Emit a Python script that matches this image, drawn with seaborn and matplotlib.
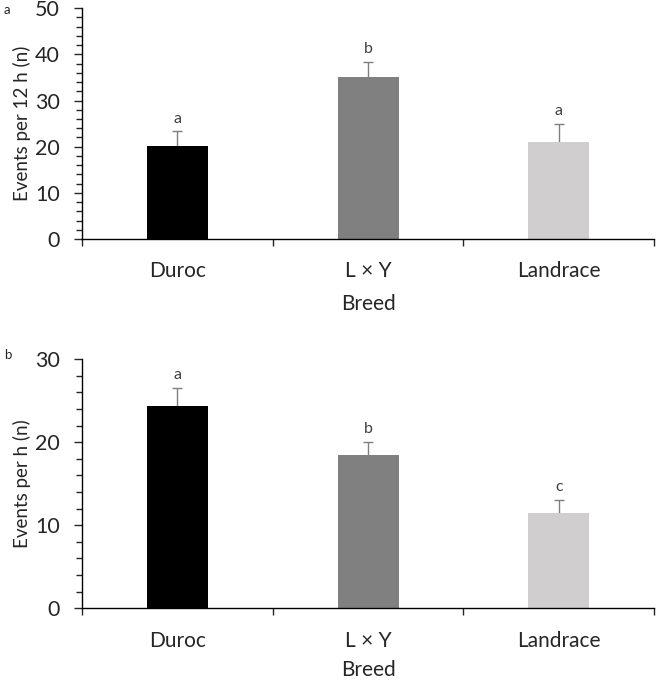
import matplotlib
matplotlib.use("Agg")
import matplotlib.pyplot as plt
import seaborn as sns
import pandas as pd
import numpy as np

breeds = ["Duroc", "L \u00d7 Y", "Landrace"]
colors = ["#000000", "#808080", "#D0CECE"]

events_12h = [20.1, 35.1, 21.0]
err_12h = [3.2, 3.3, 4.0]
letters_12h = ["a", "b", "a"]

events_h = [24.4, 18.4, 11.5]
err_h = [2.1, 1.6, 1.5]
letters_h = ["a", "b", "c"]

sns.set_style("white")
plt.rcParams["font.family"] = ["Lato", "DejaVu Sans"]

fig = plt.figure(figsize=(6.56, 6.80), dpi=100)
ax1 = fig.add_axes([0.125, 0.6485, 0.872, 0.3395])
ax2 = fig.add_axes([0.125, 0.1054, 0.872, 0.3666])


def panel(ax, vals, errs, letters, ymax, ylabel, letter_gap, xlabelpad):
    df = pd.DataFrame({"Breed": breeds, "val": vals})
    sns.barplot(data=df, x="Breed", y="val", hue="Breed", palette=colors,
                width=0.32, legend=False, ax=ax, zorder=2, saturation=1)
    for p in ax.patches:
        p.set_edgecolor("none")
    x = np.arange(len(vals))
    ax.errorbar(x, vals, yerr=errs, fmt="none", ecolor="#7f7f7f",
                elinewidth=1.0, capsize=3.5, capthick=1.0, zorder=1)
    for xi, v, e, l in zip(x, vals, errs, letters):
        ax.text(xi, v + e + letter_gap, l, ha="center", va="bottom",
                fontsize=11.5, color="#404040")
    ax.set_xlim(-0.5, 2.5)
    ax.set_ylim(0, ymax)
    ax.set_yticks(np.arange(0, ymax + 1, 10))
    ax.set_yticks(np.arange(0, ymax + 1, 2), minor=True)
    ax.set_xticks([-0.5, 0.5, 1.5, 2.5], minor=True)
    ax.tick_params(axis="x", which="major", length=0, pad=16, labelsize=15)
    ax.tick_params(axis="x", which="minor", length=5, width=1, direction="out",
                   bottom=True)
    ax.tick_params(axis="y", which="major", length=6, width=1, direction="out",
                   left=True, labelsize=15.5, pad=10)
    ax.tick_params(axis="y", which="minor", length=4, width=1, direction="out",
                   left=True)
    for s in ["top", "right"]:
        ax.spines[s].set_visible(False)
    for s in ["left", "bottom"]:
        ax.spines[s].set_color("black")
        ax.spines[s].set_linewidth(1.0)
    ax.set_xlabel("Breed", fontsize=15, labelpad=xlabelpad)
    ax.set_ylabel(ylabel, fontsize=13.5, labelpad=3)


panel(ax1, events_12h, err_12h, letters_12h, 50, "Events per 12 h (n)", 1.2, 9)
panel(ax2, events_h, err_h, letters_h, 30, "Events per h (n)", 0.75, 7)

fig.text(0.006, 0.985, "a", fontsize=9.5, va="center")
fig.text(0.006, 0.478, "b", fontsize=9.5, va="center")

fig.savefig("out.png", dpi=100)
